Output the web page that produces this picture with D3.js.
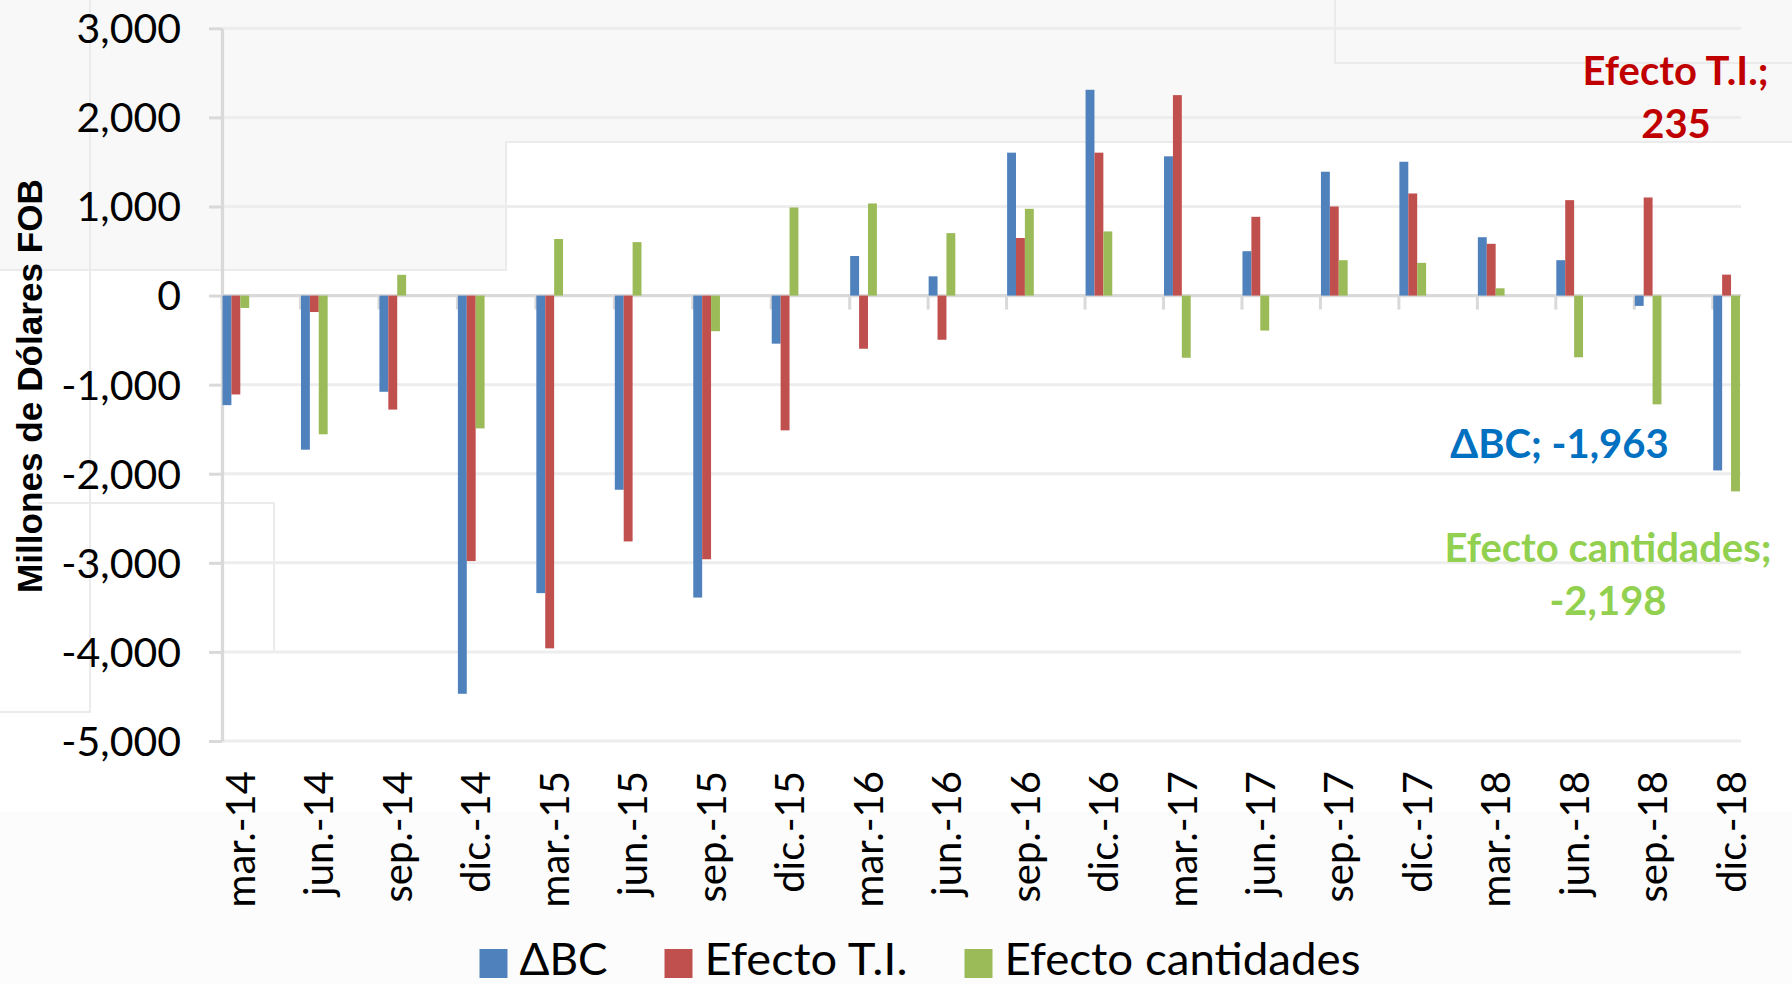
<!DOCTYPE html>
<html><head><meta charset="utf-8">
<script src="https://cdn.jsdelivr.net/npm/d3@7"></script>
<style>html,body{margin:0;padding:0;background:#fff;}svg{display:block;}</style>
</head><body>
<svg id="chart" width="1792" height="984"></svg>
<script>
const categories = ["mar.-14","jun.-14","sep.-14","dic.-14","mar.-15","jun.-15","sep.-15","dic.-15","mar.-16","jun.-16","sep.-16","dic.-16","mar.-17","jun.-17","sep.-17","dic.-17","mar.-18","jun.-18","sep.-18","dic.-18"];
const deltaBC = [-1230,-1730,-1080,-4470,-3340,-2180,-3390,-540,444,216,1604,2310,1563,498,1390,1502,655,397,-116,-1963];
const efectoTI = [-1110,-185,-1280,-2980,-3960,-2760,-2960,-1513,-597,-496,646,1604,2250,884,1000,1146,581,1071,1101,235];
const efectoCant = [-139,-1557,233,-1491,635,600,-400,989,1034,701,974,720,-698,-393,397,367,82,-693,-1221,-2198];
const seriesNames = ["\u0394BC","Efecto T.I.","Efecto cantidades"];
const seriesColors = ["#4F81BD","#C0504D","#9BBB59"];
const yTicks = [3000,2000,1000,0,-1000,-2000,-3000,-4000,-5000];
const yTitle = "Millones de D\u00f3lares FOB";

const loc = d3.formatLocale({decimal:".",thousands:",",grouping:[3],currency:["$",""],minus:"-"});
const fmt = loc.format(",");

const svg = d3.select("#chart");
const W = 1792, H = 984;
const left = 222, catW = 78.46, plotRight = 1741;
const barW = 8.9, barOff = 0.5;

// faint background artifacts
const bg = svg.append("g");
bg.append("path").attr("d","M0,0H1792V142H506V270H0Z").attr("fill","#f8f8f8");
bg.append("rect").attr("x",0).attr("y",812).attr("width",W).attr("height",H-812).attr("fill","#fcfcfc");
const faint = "#ebebeb";
[["M0,270H506V142H1792"],["M1335,0V63H1792"],["M90,0V712H0"],["M38,503H274V651"]].forEach(p=>{
  bg.append("path").attr("d",p[0]).attr("fill","none").attr("stroke",faint).attr("stroke-width",2);
});

const x = d3.scaleBand().domain(categories).range([left, left + catW*categories.length]).padding(0);
const y = d3.scaleLinear().domain([-5000,3000]).range([741,28.3]);

// gridlines
svg.append("g").selectAll("line").data(yTicks.filter(d=>d!==0)).join("line")
  .attr("x1",left).attr("x2",plotRight).attr("y1",d=>y(d)).attr("y2",d=>y(d))
  .attr("stroke","#ededed").attr("stroke-width",3);

// y axis
const yAxis = svg.append("g").attr("transform",`translate(${left},0)`)
  .call(d3.axisLeft(y).tickValues(yTicks).tickSize(13).tickSizeOuter(0).tickPadding(28).tickFormat(fmt));
yAxis.select(".domain").attr("stroke","#d9d9d9").attr("stroke-width",3.3);
yAxis.selectAll(".tick line").attr("stroke","#d9d9d9").attr("stroke-width",3);
yAxis.selectAll(".tick text").attr("font-family","Lato").attr("font-size",41).attr("fill","#000").attr("dy","0.35em");

// zero line
svg.append("line").attr("x1",left).attr("x2",plotRight).attr("y1",y(0)).attr("y2",y(0))
  .attr("stroke","#d9d9d9").attr("stroke-width",3.3);
// category ticks
svg.append("g").selectAll("line").data(categories).join("line")
  .attr("x1",d=>x(d)).attr("x2",d=>x(d)).attr("y1",y(0)).attr("y2",y(0)+14)
  .attr("stroke","#d9d9d9").attr("stroke-width",3);

// bars
const allSeries = [deltaBC, efectoTI, efectoCant];
allSeries.forEach((vals,k)=>{
  svg.append("g").selectAll("rect").data(vals).join("rect")
    .attr("x",(d,i)=>x(categories[i]) + barOff + k*barW)
    .attr("width",barW)
    .attr("y",d=>y(Math.max(0,d)))
    .attr("height",d=>Math.abs(y(d)-y(0)))
    .attr("fill",seriesColors[k]);
});

// x labels
svg.append("g").selectAll("text").data(categories).join("text")
  .attr("transform",d=>`translate(${x(d)+18},771) rotate(-90)`)
  .attr("text-anchor","end").attr("dominant-baseline","central")
  .attr("font-family","Lato").attr("font-size",40).attr("fill","#000")
  .text(d=>d);

// y title
svg.append("text").attr("transform","translate(42,386) rotate(-90)")
  .attr("text-anchor","middle").attr("font-family","Liberation Sans").attr("font-weight","bold")
  .attr("font-size",35).attr("fill","#000")
  .attr("textLength",414).attr("lengthAdjust","spacingAndGlyphs").text(yTitle);

// data labels for last point
const last = categories.length-1;
const lab = svg.append("g").attr("font-family","Lato").attr("font-weight","bold").attr("font-size",40).attr("text-anchor","middle");
lab.append("text").attr("x",1675.5).attr("y",85).attr("fill","#C00000").text(seriesNames[1]+";");
lab.append("text").attr("x",1676).attr("y",138).attr("fill","#C00000").text(fmt(efectoTI[last]));
lab.append("text").attr("x",1559.5).attr("y",458).attr("fill","#0070C0").text(seriesNames[0]+"; "+fmt(deltaBC[last]));
lab.append("text").attr("x",1608).attr("y",562).attr("fill","#92D050").text(seriesNames[2]+";");
lab.append("text").attr("x",1608).attr("y",615).attr("fill","#92D050").text(fmt(efectoCant[last]));

// legend
const legWidths = [88,203,356];
const leg = svg.append("g");
let lx = 479.5;
seriesNames.forEach((n,k)=>{
  leg.append("rect").attr("x",lx).attr("y",949).attr("width",28).attr("height",29).attr("fill",seriesColors[k]);
  leg.append("text").attr("x",lx+40).attr("y",975).attr("font-family","Lato").attr("font-size",45).attr("fill","#000")
    .attr("textLength",legWidths[k]).attr("lengthAdjust","spacingAndGlyphs").text(n);
  lx += 40 + legWidths[k] + 57;
});
</script>
</body></html>
